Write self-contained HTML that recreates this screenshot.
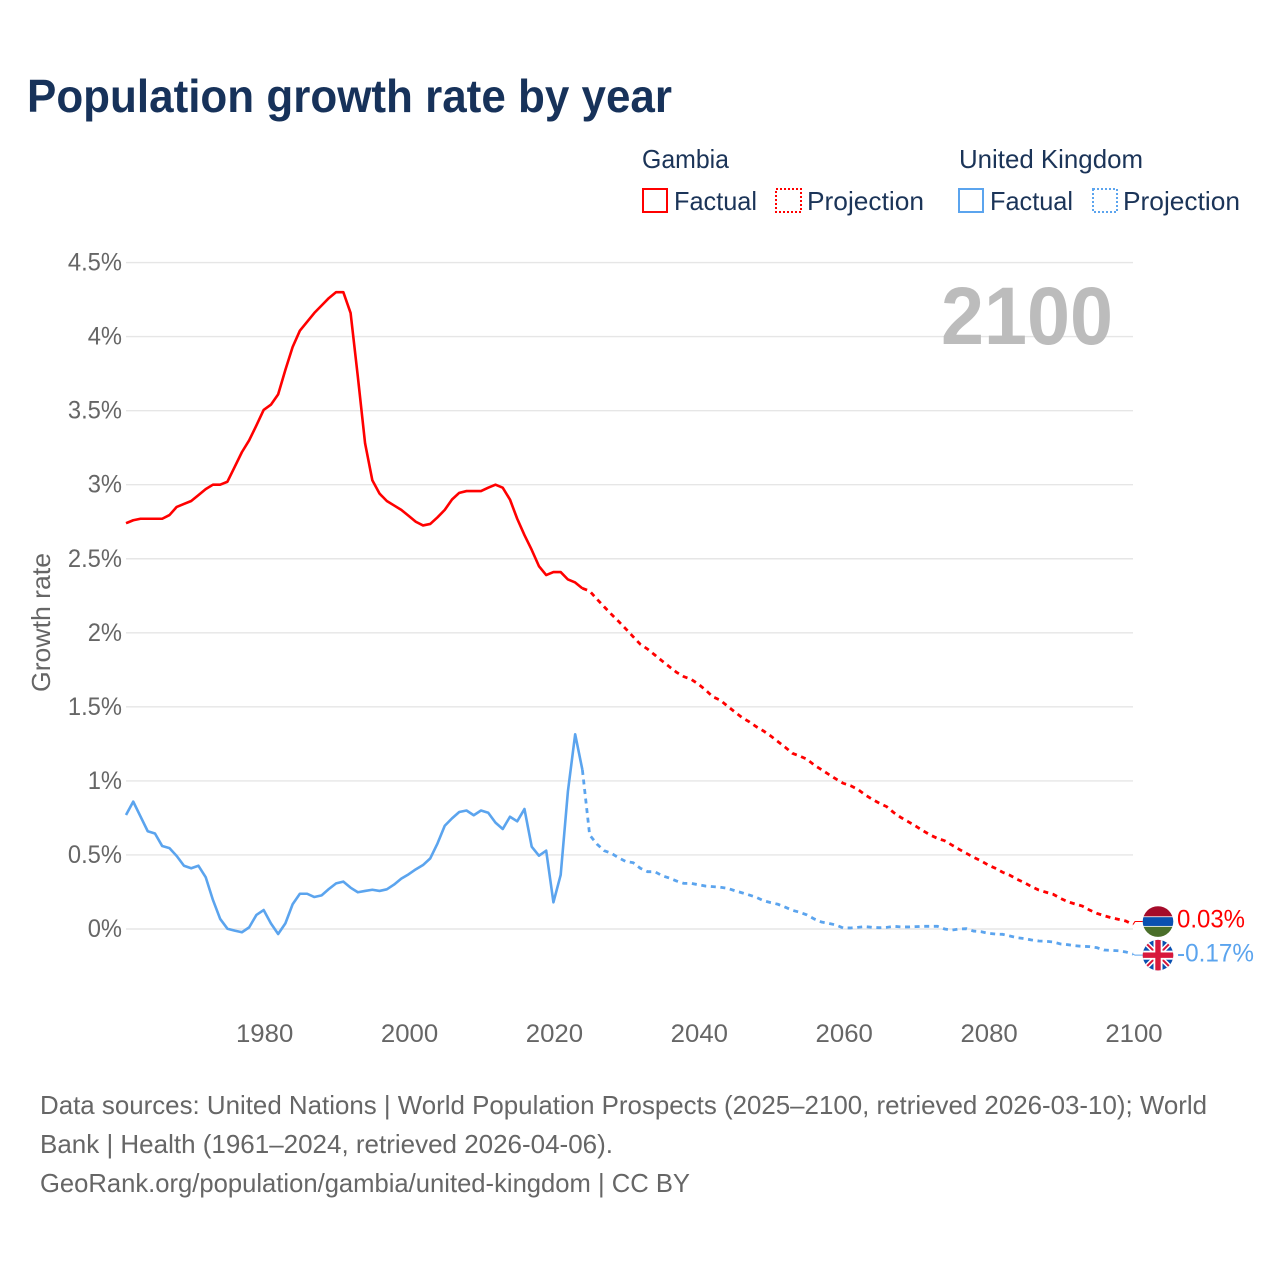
<!DOCTYPE html>
<html lang="en">
<head>
<meta charset="utf-8">
<title>Population growth rate by year</title>
<style>
html,body{margin:0;padding:0;background:#fff;}
svg{display:block;}
text{font-family:"Liberation Sans",sans-serif;}
</style>
</head>
<body>
<svg id="chart" xmlns="http://www.w3.org/2000/svg" width="1280" height="1280" viewBox="0 0 1280 1280">
  <rect x="0" y="0" width="1280" height="1280" fill="#fff"/>
  <text x="27" y="112" font-size="46" font-weight="700" fill="#17325a" textLength="645" lengthAdjust="spacingAndGlyphs">Population growth rate by year</text>

  <g font-size="26" fill="#1b3458">
    <text x="642" y="168" textLength="87" lengthAdjust="spacingAndGlyphs">Gambia</text>
    <text x="959" y="168" textLength="184" lengthAdjust="spacingAndGlyphs">United Kingdom</text>
    <g>
      <rect x="643" y="189" width="24" height="23" fill="none" stroke="#ff0000" stroke-width="2"/>
      <text x="674" y="210" textLength="83" lengthAdjust="spacingAndGlyphs">Factual</text>
    </g>
    <g>
      <rect x="776" y="189" width="25" height="23" fill="none" stroke="#ff0000" stroke-width="2" stroke-dasharray="2 2"/>
      <text x="807" y="210" textLength="117" lengthAdjust="spacingAndGlyphs">Projection</text>
    </g>
    <g>
      <rect x="959" y="189" width="24" height="23" fill="none" stroke="#5ba4ee" stroke-width="2"/>
      <text x="990" y="210" textLength="83" lengthAdjust="spacingAndGlyphs">Factual</text>
    </g>
    <g>
      <rect x="1093" y="189" width="24" height="23" fill="none" stroke="#5ba4ee" stroke-width="2" stroke-dasharray="2 2"/>
      <text x="1123" y="210" textLength="117" lengthAdjust="spacingAndGlyphs">Projection</text>
    </g>
  </g>

  <g id="grid"></g>
  <g id="yticks"></g>
  <g id="xticks"></g>
  <text transform="translate(50,692) rotate(-90)" font-size="26" fill="#666" textLength="139" lengthAdjust="spacingAndGlyphs">Growth rate</text>
  <text id="year-label" x="1113" y="344" text-anchor="end" font-size="82" font-weight="700" fill="#bcbcbc" textLength="172" lengthAdjust="spacingAndGlyphs"></text>
  <g id="series"></g>

  <defs>
    <clipPath id="flag-clip"><circle cx="0" cy="0" r="15.3"/></clipPath>
  </defs>
  <g id="flag-gambia">
    <g clip-path="url(#flag-clip)">
      <rect x="-16" y="-16" width="32" height="32" fill="#fff"/>
      <rect x="-16" y="-16" width="32" height="10.8" fill="#a50b2a"/>
      <rect x="-16" y="-4.4" width="32" height="8.8" fill="#0a50b0"/>
      <rect x="-16" y="5.2" width="32" height="11" fill="#4a6f2a"/>
    </g>
  </g>
  <g id="flag-uk">
    <g clip-path="url(#flag-clip)">
      <rect x="-16" y="-16" width="32" height="32" fill="#0a50b0"/>
      <path d="M-16,-16 L16,16 M16,-16 L-16,16" stroke="#fff" stroke-width="5"/>
      <path d="M-16,-16 L16,16 M16,-16 L-16,16" stroke="#d8183c" stroke-width="2"/>
      <rect x="-16" y="-4.5" width="32" height="9" fill="#fff"/>
      <rect x="-4.5" y="-16" width="9" height="32" fill="#fff"/>
      <rect x="-16" y="-2.7" width="32" height="5.4" fill="#d8183c"/>
      <rect x="-2.7" y="-16" width="5.4" height="32" fill="#d8183c"/>
    </g>
  </g>
  <text id="value-gambia" x="1177" y="927" font-size="25" fill="#ff0000" textLength="68" lengthAdjust="spacingAndGlyphs"></text>
  <text id="value-uk" x="1177" y="962" font-size="25" fill="#5ba4ee" textLength="77" lengthAdjust="spacingAndGlyphs"></text>

  <g font-size="26" fill="#666">
    <text x="40" y="1114" textLength="1167" lengthAdjust="spacingAndGlyphs">Data sources: United Nations | World Population Prospects (2025–2100, retrieved 2026-03-10); World</text>
    <text x="40" y="1153" textLength="573" lengthAdjust="spacingAndGlyphs">Bank | Health (1961–2024, retrieved 2026-04-06).</text>
    <text x="40" y="1192" textLength="650" lengthAdjust="spacingAndGlyphs">GeoRank.org/population/gambia/united-kingdom | CC BY</text>
  </g>
</svg>
<script>
const yTickValues = [0, 0.5, 1, 1.5, 2, 2.5, 3, 3.5, 4, 4.5];
const yTickLabels = ["0%", "0.5%", "1%", "1.5%", "2%", "2.5%", "3%", "3.5%", "4%", "4.5%"];
const xTickYears = [1980, 2000, 2020, 2040, 2060, 2080, 2100];
const firstYear = 1961;
const gambiaFactual = [2.74,2.76,2.77,2.77,2.77,2.77,2.795,2.85,2.87,2.89,2.93,2.97,3.0,3.0,3.02,3.12,3.22,3.30,3.40,3.505,3.54,3.61,3.775,3.93,4.04,4.10,4.16,4.21,4.26,4.30,4.30,4.16,3.73,3.28,3.03,2.94,2.89,2.86,2.83,2.79,2.75,2.725,2.735,2.78,2.83,2.90,2.945,2.957,2.957,2.957,2.98,3.0,2.98,2.90,2.77,2.66,2.56,2.45,2.39,2.41,2.41,2.36,2.34,2.30];
const gambiaProjection = [2.282,2.228,2.176,2.125,2.077,2.026,1.974,1.922,1.89,1.85,1.81,1.771,1.733,1.704,1.686,1.654,1.614,1.568,1.546,1.506,1.467,1.429,1.40,1.366,1.337,1.303,1.265,1.227,1.186,1.168,1.146,1.107,1.076,1.044,1.013,0.984,0.968,0.943,0.907,0.876,0.849,0.826,0.785,0.752,0.724,0.695,0.664,0.635,0.612,0.596,0.567,0.538,0.511,0.484,0.461,0.432,0.41,0.383,0.363,0.336,0.313,0.286,0.263,0.248,0.234,0.207,0.184,0.169,0.155,0.128,0.106,0.09,0.076,0.065,0.054,0.03];
const ukFactual = [0.77,0.86,0.76,0.66,0.645,0.56,0.546,0.493,0.427,0.41,0.427,0.35,0.196,0.068,0.002,-0.011,-0.022,0.011,0.095,0.128,0.038,-0.034,0.038,0.167,0.238,0.238,0.216,0.227,0.27,0.308,0.32,0.279,0.248,0.257,0.265,0.257,0.268,0.30,0.34,0.369,0.403,0.432,0.477,0.578,0.697,0.747,0.79,0.80,0.768,0.80,0.785,0.718,0.675,0.758,0.727,0.81,0.556,0.495,0.529,0.18,0.365,0.93,1.315,1.074];
const ukProjection = [0.635,0.574,0.529,0.511,0.481,0.455,0.448,0.41,0.387,0.387,0.36,0.344,0.324,0.308,0.308,0.299,0.29,0.286,0.282,0.275,0.259,0.245,0.23,0.214,0.191,0.178,0.167,0.147,0.126,0.113,0.095,0.068,0.047,0.038,0.027,0.007,0.007,0.011,0.016,0.011,0.009,0.011,0.018,0.014,0.014,0.016,0.018,0.018,0.018,0,-0.007,0,0.002,-0.014,-0.018,-0.029,-0.034,-0.036,-0.047,-0.059,-0.065,-0.074,-0.081,-0.083,-0.088,-0.101,-0.106,-0.113,-0.117,-0.119,-0.126,-0.142,-0.144,-0.147,-0.155,-0.17];

const SVG_NS = "http://www.w3.org/2000/svg";
function xScale(year) { return 126 + (year - 1961) * (1007 / 139); }
function yScale(value) { return 929 - value * 148.1; }
function make(tag, parent) {
  const el = document.createElementNS(SVG_NS, tag);
  parent.appendChild(el);
  return el;
}
function narrow(el, ratio) {
  const len = el.getComputedTextLength();
  el.setAttribute("textLength", (len * ratio).toFixed(1));
  el.setAttribute("lengthAdjust", "spacingAndGlyphs");
}
function pathFrom(startYear, values) {
  return values.map(function (v, i) {
    return (i ? "L" : "M") + xScale(startYear + i).toFixed(2) + "," + yScale(v).toFixed(2);
  }).join(" ");
}
function drawSeries(parent, name, factual, projection, color) {
  const solid = make("path", parent);
  
  
  solid.setAttribute("d", pathFrom(firstYear, factual));
  solid.setAttribute("fill", "none");
  solid.setAttribute("stroke", color);
  solid.setAttribute("stroke-width", "2.6");
  solid.setAttribute("stroke-linejoin", "round");
  const projStart = firstYear + factual.length - 1;
  const dashed = make("path", parent);
  
  
  dashed.setAttribute("d", pathFrom(projStart, [factual[factual.length - 1]].concat(projection)));
  dashed.setAttribute("fill", "none");
  dashed.setAttribute("stroke", color);
  dashed.setAttribute("stroke-width", "2.8");
  dashed.setAttribute("stroke-dasharray", "5 4.6");
}
function drawConnector(parent, name, lastValue, flagY, color) {
  const line = make("path", parent);
  
  
  const x0 = xScale(2100);
  line.setAttribute("d", "M" + x0 + "," + yScale(lastValue) + " L" + (x0 + 2) + "," + flagY + " L" + (x0 + 10) + "," + flagY);
  line.setAttribute("fill", "none");
  line.setAttribute("stroke", color);
  line.setAttribute("stroke-width", "1");
}
const gridGroup = document.getElementById("grid");
const yGroup = document.getElementById("yticks");
yTickValues.forEach(function (v, i) {
  const line = make("line", gridGroup);
  
  
  line.setAttribute("x1", xScale(1961));
  line.setAttribute("x2", xScale(2100));
  line.setAttribute("y1", yScale(v));
  line.setAttribute("y2", yScale(v));
  line.setAttribute("stroke", "#e6e6e6");
  line.setAttribute("stroke-width", "1.4");
  const label = make("text", yGroup);
  
  
  label.setAttribute("x", "122");
  label.setAttribute("y", yScale(v) + 8);
  label.setAttribute("text-anchor", "end");
  label.setAttribute("font-size", "25");
  label.setAttribute("fill", "#666");
  label.textContent = yTickLabels[i];
  narrow(label, 0.95);
});
const xGroup = document.getElementById("xticks");
xTickYears.forEach(function (year) {
  const label = make("text", xGroup);
  
  
  label.setAttribute("x", xScale(year) + 1);
  label.setAttribute("y", "1042");
  label.setAttribute("text-anchor", "middle");
  label.setAttribute("font-size", "25");
  label.setAttribute("fill", "#666");
  label.textContent = String(year);
  narrow(label, 1.03);
});
const seriesGroup = document.getElementById("series");
drawSeries(seriesGroup, "gambia", gambiaFactual, gambiaProjection, "#ff0000");
drawSeries(seriesGroup, "uk", ukFactual, ukProjection, "#5ba4ee");

const lastGambia = gambiaProjection[gambiaProjection.length - 1];
const lastUk = ukProjection[ukProjection.length - 1];
const gambiaFlagY = yScale(lastGambia) - 3;
const ukFlagY = yScale(lastUk) + 1;
drawConnector(seriesGroup, "gambia", lastGambia, gambiaFlagY, "#ff0000");
drawConnector(seriesGroup, "uk", lastUk, ukFlagY, "#5ba4ee");
const flagX = xScale(2100) + 25;
document.getElementById("flag-gambia").setAttribute("transform", "translate(" + flagX + "," + gambiaFlagY + ")");
document.getElementById("flag-uk").setAttribute("transform", "translate(" + flagX + "," + ukFlagY + ")");
const valueGambia = document.getElementById("value-gambia");
valueGambia.textContent = lastGambia.toFixed(2) + "%";
valueGambia.setAttribute("y", gambiaFlagY + 6);
const valueUk = document.getElementById("value-uk");
valueUk.textContent = lastUk.toFixed(2) + "%";
valueUk.setAttribute("y", ukFlagY + 6.5);
document.getElementById("year-label").textContent = String(firstYear + gambiaFactual.length - 1 + gambiaProjection.length);
</script>
</body>
</html>
